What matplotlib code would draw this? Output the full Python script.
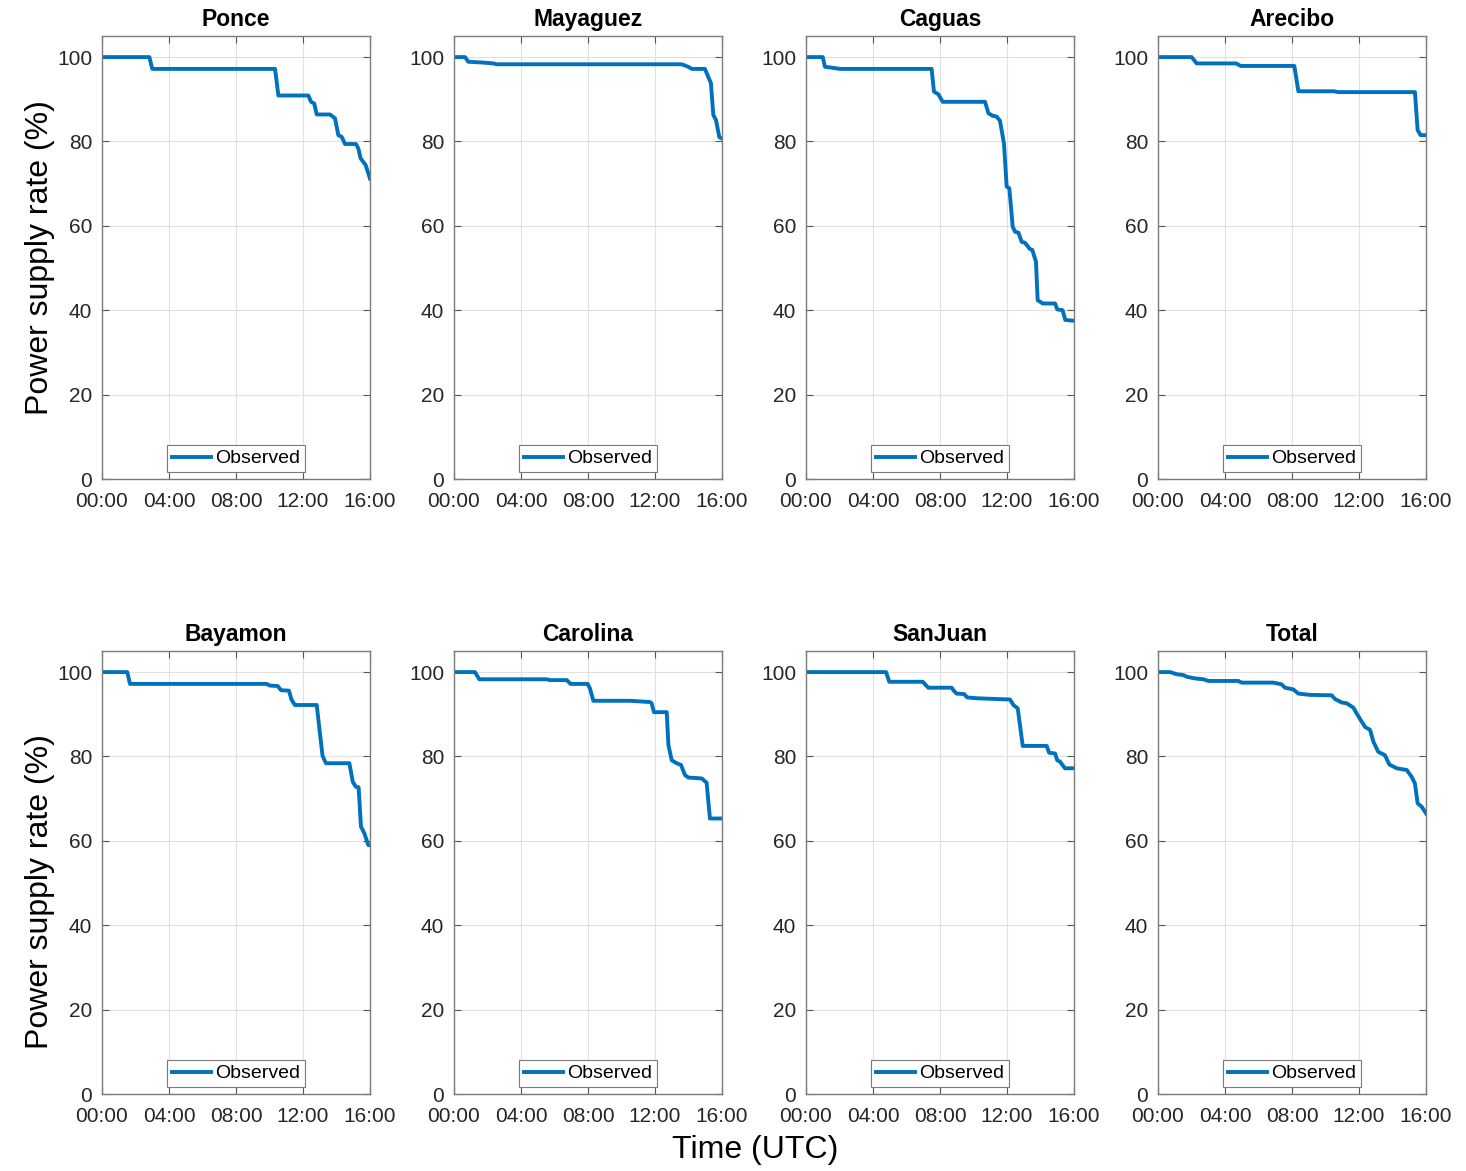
import matplotlib
matplotlib.use("Agg")
import matplotlib.pyplot as plt

plt.rcParams['font.family'] = ['Liberation Sans', 'DejaVu Sans']

regions = ["Ponce", "Mayaguez", "Caguas", "Arecibo",
           "Bayamon", "Carolina", "SanJuan", "Total"]

# time in hours since 00:00 UTC, supply rate in %
ponce_t = [0, 2.83, 3.0, 10.33, 10.53, 12.32, 12.48, 12.67, 12.82, 13.61, 13.91,
           14.11, 14.31, 14.51, 15.16, 15.3, 15.44, 15.74, 16]
ponce_v = [100, 100, 97.2, 97.2, 90.9, 90.9, 89.4, 89.0, 86.4, 86.4, 85.5,
           81.5, 81.1, 79.4, 79.4, 78.4, 76.0, 74.4, 71.2]

mayaguez_t = [0, 0.66, 0.85, 1.75, 2.35, 2.55, 13.59, 13.99, 14.19, 14.98, 15.34,
              15.48, 15.64, 15.84, 16]
mayaguez_v = [100, 100, 98.9, 98.7, 98.5, 98.3, 98.3, 97.7, 97.2, 97.2, 93.8,
              86.3, 85.1, 81.0, 80.7]

caguas_t = [0, 1.0, 1.13, 1.53, 2.03, 7.5, 7.64, 7.9, 8.16, 10.69, 10.89, 11.14,
            11.38, 11.58, 11.82, 11.98, 12.14, 12.34, 12.48, 12.68, 12.88, 13.07,
            13.37, 13.51, 13.73, 13.83, 14.13, 14.87, 15.0, 15.32, 15.48, 16]
caguas_v = [100, 100, 97.7, 97.5, 97.2, 97.2, 91.8, 91.2, 89.4, 89.4, 86.7, 86.1,
            85.9, 84.9, 79.5, 69.3, 68.9, 59.8, 58.6, 58.4, 56.2, 56.0,
            54.5, 54.3, 51.5, 42.4, 41.6, 41.6, 40.2, 40.0, 37.7, 37.5]

arecibo_t = [0, 2.01, 2.31, 4.66, 4.94, 8.14, 8.38, 10.5, 10.77, 15.34, 15.5, 15.68, 16]
arecibo_v = [100, 100, 98.5, 98.5, 97.9, 97.9, 91.9, 91.9, 91.7, 91.7, 82.7, 81.5, 81.5]

bayamon_t = [0, 1.51, 1.67, 9.83, 10.03, 10.49, 10.69, 11.16, 11.32, 11.52, 12.82,
             13.01, 13.17, 13.37, 14.77, 14.97, 15.16, 15.32, 15.46, 15.66, 15.9, 16]
bayamon_v = [100, 100, 97.2, 97.2, 96.8, 96.7, 95.7, 95.6, 93.4, 92.2, 92.2,
             85.5, 80.1, 78.4, 78.4, 74.0, 72.8, 72.7, 63.4, 61.8, 59.0, 59.0]

carolina_t = [0, 1.25, 1.51, 5.53, 5.73, 6.73, 6.96, 7.98, 8.12, 8.32, 10.51, 11.7,
              11.8, 11.94, 12.7, 12.8, 13.0, 13.29, 13.55, 13.79, 13.99, 14.79,
              15.08, 15.28, 16]
carolina_v = [100, 100, 98.3, 98.3, 98.1, 98.1, 97.2, 97.2, 96.1, 93.2, 93.2, 92.9,
              92.6, 90.5, 90.5, 82.7, 79.1, 78.4, 78.0, 75.6, 75.0, 74.8,
              73.8, 65.3, 65.3]

sanjuan_t = [0, 4.78, 4.97, 6.97, 7.3, 8.7, 8.8, 8.99, 9.43, 9.63, 10.19, 12.18,
             12.38, 12.64, 12.94, 14.37, 14.51, 14.87, 15.0, 15.16, 15.46, 16]
sanjuan_v = [100, 100, 97.7, 97.7, 96.3, 96.3, 95.7, 94.9, 94.8, 94.0, 93.8, 93.5,
             92.2, 91.4, 82.5, 82.5, 80.9, 80.7, 79.1, 78.8, 77.2, 77.2]

total_t = [0, 0.72, 1.11, 1.51, 1.71, 2.21, 2.71, 3.01, 4.8, 4.99, 6.89, 7.38,
           7.58, 8.08, 8.38, 9.07, 10.37, 10.57, 10.97, 11.26, 11.66, 11.86,
           12.06, 12.36, 12.66, 12.86, 13.15, 13.55, 13.81, 14.25, 14.85, 15.14,
           15.34, 15.5, 15.74, 15.94, 16]
total_v = [100, 100, 99.5, 99.3, 98.9, 98.5, 98.3, 97.9, 97.9, 97.5, 97.5, 97.1,
           96.3, 95.9, 94.9, 94.6, 94.5, 93.6, 92.8, 92.6, 91.6, 90.2,
           88.9, 87.0, 86.3, 83.5, 81.1, 80.3, 78.1, 77.2, 76.8, 75.2,
           73.6, 68.9, 68.1, 66.9, 66.5]

series = [(ponce_t, ponce_v), (mayaguez_t, mayaguez_v), (caguas_t, caguas_v),
          (arecibo_t, arecibo_v), (bayamon_t, bayamon_v), (carolina_t, carolina_v),
          (sanjuan_t, sanjuan_v), (total_t, total_v)]

xticks = [0, 4, 8, 12, 16]
xticklabels = ["00:00", "04:00", "08:00", "12:00", "16:00"]
yticks = [0, 20, 40, 60, 80, 100]

W, H = 1466, 1171
fig = plt.figure(figsize=(W / 100, H / 100), dpi=100)

lefts = [102, 454, 806, 1158]
bottoms = [479, 1094]   # pixel y of axes bottom, per row
aw, ah = 268, 443
ylabel_y = [0.5, 0.456]  # bottom-row label sits a bit lower in the original

for i, name in enumerate(regions):
    row, col = i // 4, i % 4
    ax = fig.add_axes([lefts[col] / W, 1 - bottoms[row] / H, aw / W, ah / H])
    t, v = series[i]
    ax.plot(t, v, color='#0072BD', lw=2.8, label='Observed')
    ax.set_xlim(0, 16)
    ax.set_ylim(0, 105)
    ax.set_xticks(xticks)
    ax.set_xticklabels(xticklabels)
    ax.set_yticks(yticks)
    ax.grid(True, color='#e0e0e0', lw=0.8)
    ax.set_axisbelow(True)
    ax.tick_params(direction='in', top=True, right=True, length=5, width=0.8,
                   color='#555555', labelsize=15, labelcolor='#262626', pad=7)
    ax.tick_params(axis='x', pad=9)
    for s in ax.spines.values():
        s.set_color('#7a7a7a')
        s.set_linewidth(1.0)
    ax.set_title(name, fontsize=16.5, fontweight='bold', pad=7)
    leg = ax.legend(loc='lower center', fontsize=14, handlelength=2.0,
                    handletextpad=0.2, borderpad=0.25, borderaxespad=0.35,
                    fancybox=False, framealpha=1)
    leg.get_frame().set_edgecolor('#7a7a7a')
    leg.get_frame().set_linewidth(0.8)
    if col == 0:
        ax.set_ylabel('Power supply rate (%)', fontsize=23)
        ax.yaxis.set_label_coords(-0.175, ylabel_y[row])

fig.text(755 / W, 1 - 1150 / H, 'Time (UTC)', ha='center', va='center', fontsize=23)

fig.savefig('out.png', dpi=100)
